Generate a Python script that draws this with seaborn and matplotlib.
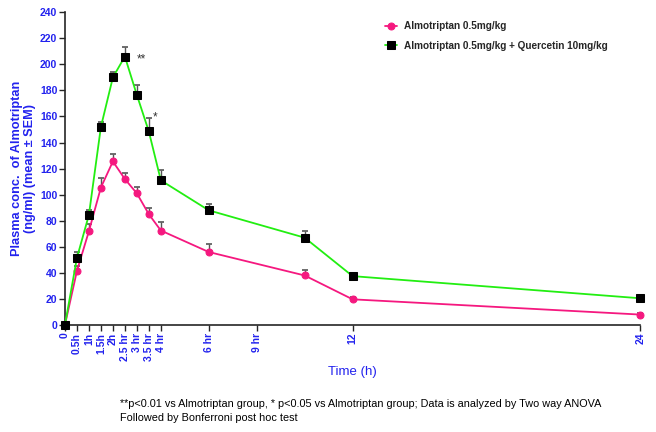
import matplotlib
matplotlib.use("Agg")
import matplotlib.pyplot as plt
import seaborn as sns
import numpy as np
import pandas as pd

# ---- data ----
time_h = [0, 0.5, 1, 1.5, 2, 2.5, 3, 3.5, 4, 6, 10, 12, 24]
almo = [0, 41.5, 72, 105.5, 125.5, 112, 101, 85, 72.5, 56, 38, 19.7, 8]
almo_sem = [0, 4, 5.5, 7, 5.5, 5, 5, 5, 6.2, 6, 4, 2, 1]
almo_q = [0, 51.5, 84.5, 152, 190, 206, 176.5, 148.5, 111, 88, 67, 37.5, 20.5]
almo_q_sem = [0, 4.5, 4, 3.5, 4.5, 7, 8, 10, 8.3, 5, 5, 2, 1]
tick_pos = [0, 0.5, 1, 1.5, 2, 2.5, 3, 3.5, 4, 6, 8, 12, 24]
tick_labels = ["0", "0.5h", "1h", "1.5h", "2h", "2.5 hr", "3 hr", "3.5 hr", "4 hr",
               "6 hr", "9 hr", "12", "24"]
y_ticks = list(range(0, 241, 20))
series_names = ["Almotriptan 0.5mg/kg", "Almotriptan 0.5mg/kg + Quercetin 10mg/kg"]

sns.set_style("ticks")
fam = ["Liberation Sans", "DejaVu Sans"]
plt.rcParams["font.family"] = fam

PINK = "#F5187F"
GREEN = "#22EE11"
BLUE = "#2222EE"

fig = plt.figure(figsize=(6.56, 4.32), dpi=100)
ax = fig.add_axes([0.099, 0.2477, 0.877, 0.724])

df1 = pd.DataFrame({"t": time_h, "c": almo})
df2 = pd.DataFrame({"t": time_h, "c": almo_q})

# error bars (upper only)
ax.errorbar(time_h, almo, yerr=[np.zeros(len(almo_sem)), almo_sem], fmt="none",
            ecolor="#555555", elinewidth=1.0, capsize=2.5, capthick=1.2, zorder=2, clip_on=False)
ax.errorbar(time_h, almo_q, yerr=[np.zeros(len(almo_q_sem)), almo_q_sem], fmt="none",
            ecolor="#555555", elinewidth=1.0, capsize=2.5, capthick=1.2, zorder=2, clip_on=False)

sns.lineplot(data=df1, x="t", y="c", ax=ax, color=PINK, lw=1.3, marker="o",
             markersize=5, markerfacecolor=PINK, markeredgecolor=PINK,
             label=series_names[0], zorder=3, clip_on=False)
sns.lineplot(data=df2, x="t", y="c", ax=ax, color=GREEN, lw=1.3, marker="s",
             markersize=5.5, markerfacecolor="black", markeredgecolor="black",
             label=series_names[1], zorder=4, clip_on=False)

ax.set_xlim(0, 24)
ax.set_ylim(0, 240)
ax.set_xticks(tick_pos)
ax.set_xticklabels(tick_labels, rotation=90, color=BLUE, fontweight="bold", fontsize=7.5)
ax.set_yticks(y_ticks)
ax.set_yticklabels([str(v) for v in y_ticks], color=BLUE, fontweight="bold", fontsize=7.5)
ax.tick_params(axis="both", length=4, width=1, direction="out", pad=1.5)
for s in ["top", "right"]:
    ax.spines[s].set_visible(False)
for s in ["left", "bottom"]:
    ax.spines[s].set_linewidth(1.2)

ax.set_xlabel("Time (h)", color=BLUE, fontsize=9.5, labelpad=4)
ax.set_ylabel("Plasma conc.  of Almotriptan\n(ng/ml) (mean ± SEM)", color=BLUE,
              fontweight="bold", fontsize=9.2, linespacing=1.15)
ax.yaxis.set_label_coords(-0.050, 0.50)

ax.text(3.0, 204, "**", fontsize=8.5, color="#333333", ha="left", va="center")
ax.text(3.65, 159, "*", fontsize=8.5, color="#333333", ha="left", va="center")

leg = ax.legend(loc="upper left", bbox_to_anchor=(0.54, 1.0), frameon=False,
                handlelength=1.2, handletextpad=0.7, labelspacing=0.95,
                prop={"family": fam, "weight": "bold", "size": 7.2})

fig.text(0.183, 0.049, "**p<0.01 vs Almotriptan group, * p<0.05 vs Almotriptan group; Data is analyzed by Two way ANOVA\nFollowed by Bonferroni post hoc test",
         fontsize=7.8, color="black", ha="left", va="center", linespacing=1.55)

fig.savefig("out.png", dpi=100)
